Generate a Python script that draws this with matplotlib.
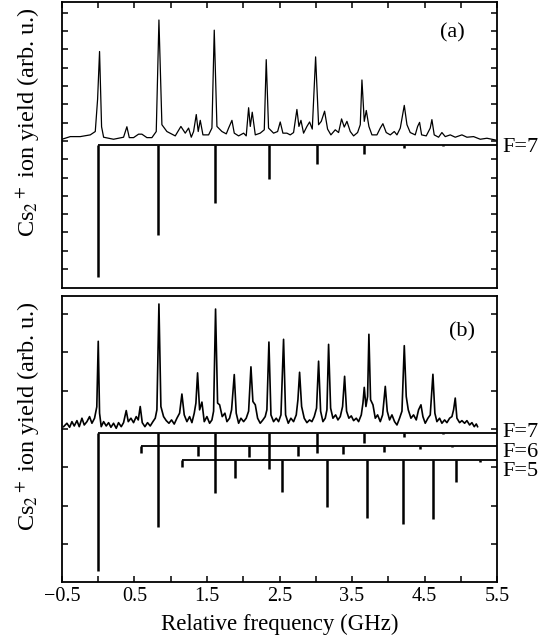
import matplotlib.pyplot as plt
import numpy as np

plt.rcParams['font.family'] = 'Liberation Serif'
plt.rcParams['mathtext.fontset'] = 'stix'

# ---- panel (a): measured spectrum (GHz, arb. u.) ----
freq_a = [-0.500, -0.386, -0.248, -0.110, -0.041, -0.009, 0.018, 0.046, 0.074, 0.211,
          0.349, 0.395, 0.428, 0.487, 0.556, 0.602, 0.671, 0.740, 0.800, 0.837,
          0.878, 0.947, 1.062, 1.140, 1.200, 1.246, 1.283, 1.315, 1.352, 1.379,
          1.407, 1.444, 1.522, 1.568, 1.600, 1.637, 1.706, 1.766, 1.798, 1.844,
          1.876, 1.936, 2.005, 2.041, 2.074, 2.097, 2.124, 2.166, 2.234, 2.290,
          2.317, 2.349, 2.418, 2.474, 2.510, 2.547, 2.602, 2.648, 2.694, 2.740,
          2.768, 2.796, 2.832, 2.878, 2.915, 2.952, 2.998, 3.039, 3.076, 3.122,
          3.163, 3.209, 3.269, 3.315, 3.356, 3.393, 3.430, 3.476, 3.522, 3.577,
          3.614, 3.637, 3.669, 3.697, 3.733, 3.775, 3.844, 3.890, 3.926, 3.972,
          4.028, 4.083, 4.120, 4.166, 4.221, 4.258, 4.303, 4.372, 4.405, 4.432,
          4.460, 4.524, 4.579, 4.602, 4.634, 4.694, 4.740, 4.786, 4.855, 4.924,
          5.016, 5.085, 5.177, 5.269, 5.361, 5.476]
yield_a = [1.7, 4.3, 4.3, 6.0, 9.3, 41.0, 88.0, 14.0, 3.7, 1.7,
           3.7, 14.0, 3.3, 3.3, 6.7, 6.7, 3.3, 3.3, 9.3, 119.0,
           16.0, 9.3, 5.0, 14.3, 7.7, 12.7, 3.7, 9.3, 26.0, 9.3,
           20.3, 6.0, 6.0, 12.7, 109.0, 14.3, 9.3, 7.0, 12.7, 20.3,
           7.7, 5.0, 7.7, 5.0, 32.7, 14.3, 28.3, 6.0, 7.7, 11.0,
           80.0, 12.7, 7.7, 9.3, 18.7, 7.7, 7.7, 6.0, 8.3, 31.0,
           14.3, 20.3, 7.7, 14.3, 18.7, 11.7, 82.7, 16.0, 19.3, 29.3,
           11.7, 6.0, 11.0, 8.3, 21.7, 13.7, 19.3, 9.3, 5.0, 8.3,
           16.0, 60.0, 19.3, 30.0, 14.3, 6.0, 6.0, 12.7, 17.0, 8.3,
           6.0, 9.3, 6.0, 12.7, 35.0, 16.0, 8.3, 6.0, 14.3, 18.3,
           6.0, 5.0, 12.7, 21.0, 6.0, 3.7, 8.3, 4.3, 6.0, 3.7,
           6.0, 3.7, 4.3, 1.7, 2.7, 1.0]

# ---- panel (b): measured spectrum ----
freq_b = [-0.478, -0.432, -0.395, -0.363, -0.331, -0.294, -0.262, -0.225, -0.193, -0.156,
          -0.120, -0.087, -0.051, -0.020, 0.000, 0.018, 0.041, 0.074, 0.110, 0.143,
          0.175, 0.211, 0.248, 0.280, 0.317, 0.349, 0.386, 0.414, 0.451, 0.487,
          0.524, 0.552, 0.579, 0.607, 0.644, 0.680, 0.717, 0.754, 0.786, 0.809,
          0.837, 0.864, 0.901, 0.938, 0.975, 1.011, 1.048, 1.085, 1.122, 1.154,
          1.186, 1.223, 1.260, 1.292, 1.324, 1.347, 1.370, 1.398, 1.430, 1.462,
          1.499, 1.536, 1.568, 1.591, 1.618, 1.646, 1.674, 1.710, 1.747, 1.775,
          1.811, 1.839, 1.876, 1.903, 1.936, 1.968, 2.005, 2.041, 2.074, 2.106,
          2.133, 2.166, 2.198, 2.234, 2.271, 2.303, 2.326, 2.354, 2.382, 2.418,
          2.455, 2.487, 2.520, 2.556, 2.584, 2.621, 2.657, 2.694, 2.731, 2.754,
          2.777, 2.805, 2.841, 2.878, 2.915, 2.947, 2.979, 3.011, 3.039, 3.067,
          3.099, 3.131, 3.154, 3.177, 3.205, 3.237, 3.274, 3.306, 3.338, 3.370,
          3.398, 3.425, 3.457, 3.490, 3.522, 3.559, 3.591, 3.628, 3.651, 3.669,
          3.692, 3.715, 3.733, 3.756, 3.789, 3.821, 3.853, 3.890, 3.922, 3.959,
          3.986, 4.018, 4.051, 4.087, 4.120, 4.156, 4.189, 4.221, 4.248, 4.276,
          4.313, 4.349, 4.386, 4.418, 4.451, 4.478, 4.510, 4.547, 4.579, 4.616,
          4.643, 4.671, 4.708, 4.740, 4.777, 4.809, 4.846, 4.878, 4.901, 4.924,
          4.947, 4.984, 5.016, 5.053, 5.085, 5.122, 5.154, 5.186, 5.214, 5.232]
yield_b = [2.3, 5.7, 1.7, 7.3, 3.0, 8.3, 2.3, 10.7, 4.0, 7.3,
           12.3, 5.7, 10.7, 22.0, 87.0, 15.7, 2.3, 7.3, 3.0, 6.3,
           1.7, 5.7, 0.7, 6.3, 2.3, 6.3, 18.3, 7.3, 10.7, 6.3,
           12.3, 9.0, 22.3, 6.3, 2.3, 6.3, 3.0, 7.3, 10.7, 19.0,
           124.0, 22.3, 12.3, 8.3, 5.7, 9.0, 4.9, 10.7, 15.7, 34.7,
           14.0, 7.3, 12.3, 6.3, 15.7, 25.7, 55.7, 19.0, 26.7, 7.3,
           12.3, 5.7, 9.0, 17.7, 119.0, 25.7, 24.0, 12.3, 15.7, 7.3,
           10.7, 19.0, 54.0, 15.7, 5.7, 10.7, 7.3, 10.7, 17.7, 61.7,
           27.3, 24.0, 10.7, 5.7, 9.0, 12.3, 19.0, 86.3, 14.0, 7.3,
           10.7, 7.3, 14.0, 89.0, 14.0, 5.7, 10.7, 7.3, 14.0, 29.0,
           56.3, 22.3, 10.7, 6.3, 9.0, 7.3, 12.3, 20.7, 67.3, 17.7,
           7.3, 10.7, 19.0, 84.0, 20.7, 10.7, 14.0, 9.0, 12.3, 22.3,
           52.3, 17.7, 10.7, 13.0, 8.3, 10.7, 7.3, 14.0, 25.7, 41.3,
           22.3, 32.3, 94.0, 29.0, 24.0, 10.7, 14.0, 7.3, 14.0, 42.3,
           17.7, 9.0, 14.0, 7.3, 4.0, 10.7, 17.7, 82.7, 32.3, 19.0,
           10.7, 14.0, 9.0, 19.0, 24.0, 12.3, 5.7, 10.7, 14.0, 54.3,
           15.7, 7.3, 10.7, 5.7, 9.0, 6.3, 10.7, 12.3, 19.0, 30.7,
           10.7, 6.3, 8.3, 5.7, 8.3, 4.0, 6.3, 2.3, 5.0, 2.3]

# ---- calculated line positions (GHz) and intensities ----
f7_pos = [0.0, 0.83, 1.61, 2.35, 3.02, 3.66, 4.22, 4.75]
f7_int_a = [130, 88, 57, 33, 19, 9, 3, 1]
f7_int_b = [137, 93, 60, 36, 20, 10, 4, 1]
f6_pos = [0.59, 1.37, 2.08, 2.76, 3.38, 3.94, 4.44, 4.88]
f6_int = [7, 10, 11, 10, 8, 6, 3, 1]
f5_pos = [1.16, 1.88, 2.54, 3.16, 3.71, 4.21, 4.62, 4.94, 5.27]
f5_int = [7, 18, 32, 46, 57, 63, 58, 22, 2]

xmin, xmax = -0.5, 5.5
major_x = [-0.5, 0.5, 1.5, 2.5, 3.5, 4.5, 5.5]
major_lbl = ['\u22120.5', '0.5', '1.5', '2.5', '3.5', '4.5', '5.5']
minor_x = [0, 1, 2, 3, 4, 5]


def sticks(ax, pos, inten, base, label, label_y):
    ax.hlines(base, pos[0], xmax, color='black', lw=1.3)
    ax.vlines(pos, base, base - np.array(inten), color='black', lw=1.8)
    ax.text(1.012, label_y, label, transform=ax.get_yaxis_transform(),
            fontsize=16, va='center', ha='left', clip_on=False)


def style(ax, top):
    ax.set_xlim(xmin, xmax)
    ax.set_xticks(major_x)
    ax.set_xticks(minor_x, minor=True)
    for s in ax.spines.values():
        s.set_linewidth(1.3)
    ax.tick_params(which='both', direction='in', length=4, width=1.1,
                   left=True, right=True, top=top, bottom=not top,
                   labelleft=False, labelbottom=not top)
    ax.set_ylabel(r'Cs$_2$$^+$ ion yield (arb. u.)', fontsize=17.5)
    ax.yaxis.set_label_coords(-0.047, 0.578)


fig = plt.figure(figsize=(5.58, 6.43), dpi=100)
ax1 = fig.add_axes([0.1111, 0.5521, 0.7796, 0.4448])
ax2 = fig.add_axes([0.1111, 0.0949, 0.7796, 0.4448])

# panel (a)
ax1.plot(freq_a, yield_a, color='black', lw=0.9)
sticks(ax1, f7_pos, f7_int_a, -4, 'F=7', -6)
ax1.set_ylim(-144.6, 136.7)
ax1.set_yticks(np.arange(-126, 127, 18))
style(ax1, True)
ax1.text(0.897, 0.892, '(a)', transform=ax1.transAxes, fontsize=16,
         ha='center', va='center')

# panel (b)
ax2.plot(freq_b, yield_b, color='black', lw=1.2)
sticks(ax2, f7_pos, f7_int_b, -4, 'F=7', -3)
sticks(ax2, f6_pos, f6_int, -17, 'F=6', -23)
sticks(ax2, f5_pos, f5_int, -31, 'F=5', -42)
ax2.set_ylim(-151.8, 132)
ax2.set_yticks(np.arange(-114, 115, 38))
style(ax2, False)
ax2.set_xticklabels(major_lbl, fontsize=14.5)
ax2.set_xlabel('Relative frequency (GHz)', fontsize=16.5, labelpad=6)
ax2.text(0.92, 0.874, '(b)', transform=ax2.transAxes, fontsize=16,
         ha='center', va='center')

fig.savefig('out.png', dpi=100)
